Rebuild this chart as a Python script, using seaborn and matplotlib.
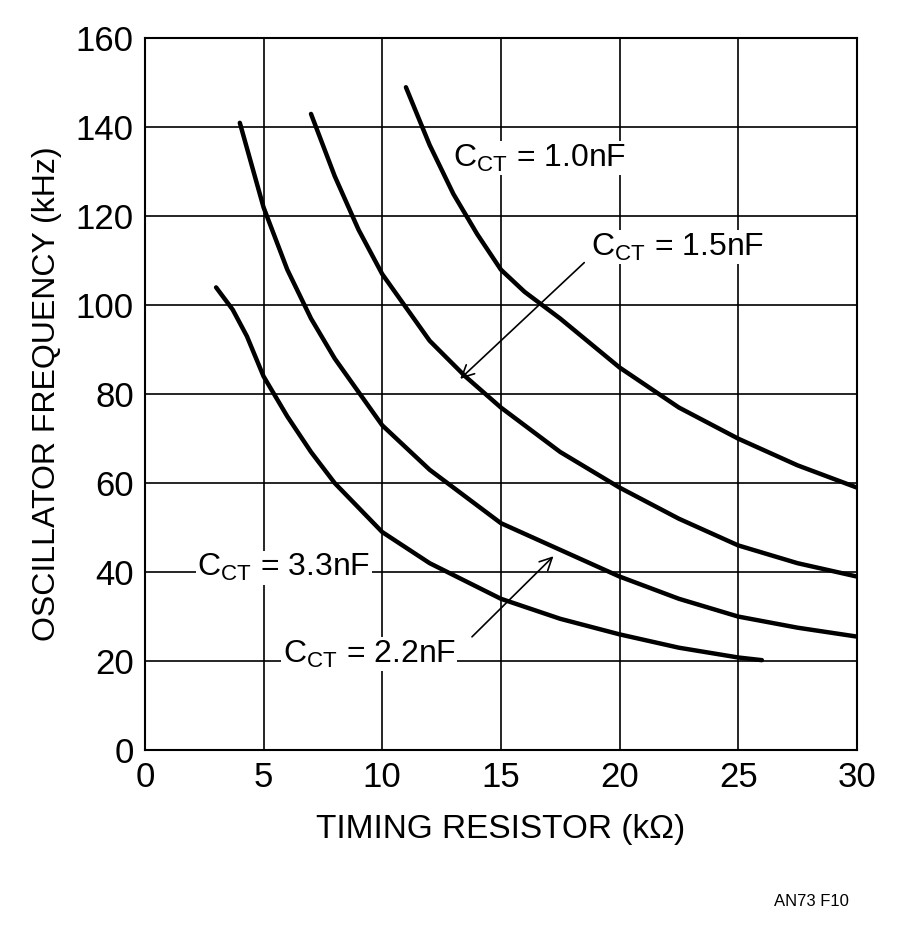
import matplotlib
matplotlib.use('Agg')
import matplotlib.pyplot as plt
import seaborn as sns

r_10 = [11, 12, 13, 14, 15, 16, 17.5, 20, 22.5, 25, 27.5, 30]
f_10 = [149, 136, 125, 116, 108, 103, 97, 86, 77, 70, 64, 59]
r_15 = [7, 8, 9, 10, 12, 13.5, 15, 17.5, 20, 22.5, 25, 27.5, 30]
f_15 = [143, 129, 117, 107, 92, 84, 77, 67, 59, 52, 46, 42, 39]
r_22 = [4, 5, 6, 7, 8, 10, 12, 15, 17.5, 20, 22.5, 25, 27.5, 30]
f_22 = [141, 122, 108, 97, 88, 73, 63, 51, 45, 39, 34, 30, 27.5, 25.5]
r_33 = [3, 3.7, 4.3, 5, 6, 7, 8, 10, 12, 15, 17.5, 20, 22.5, 25, 26]
f_33 = [104, 99, 93, 84, 75, 67, 60, 49, 42, 34, 29.5, 26, 23, 20.8, 20.2]

sns.set_style("white")
plt.rcParams['font.family'] = ['Liberation Sans', 'DejaVu Sans']
plt.rcParams['mathtext.fontset'] = 'custom'
plt.rcParams['mathtext.rm'] = 'Liberation Sans'
plt.rcParams['text.color'] = 'black'
plt.rcParams['axes.labelcolor'] = 'black'
plt.rcParams['xtick.color'] = 'black'
plt.rcParams['ytick.color'] = 'black'

fig = plt.figure(figsize=(9, 9.34), dpi=100)
ax = fig.add_axes([0.161, 0.197, 0.791, 0.762])

for r, f in [(r_10, f_10), (r_15, f_15), (r_22, f_22), (r_33, f_33)]:
    sns.lineplot(x=r, y=f, ax=ax, color='black', lw=3.2, sort=False, zorder=3)

ax.set_xlim(0, 30)
ax.set_ylim(0, 160)
ax.set_xticks(range(0, 31, 5))
ax.set_yticks(range(0, 161, 20))
ax.grid(True, color='black', lw=1.2)
for s in ax.spines.values():
    s.set_color('black')
    s.set_linewidth(1.5)
ax.tick_params(labelsize=25, length=0, pad=8)
ax.set_xlabel('TIMING RESISTOR (kΩ)', fontsize=24, labelpad=14)
ax.set_ylabel('OSCILLATOR FREQUENCY (kHz)', fontsize=23, labelpad=10)

box = dict(facecolor='white', edgecolor='none', pad=1)
kw = dict(fontsize=23, bbox=box, zorder=4, va='center')
ax.text(13.0, 133, r'C$_{\rm CT}$ = 1.0nF', **kw)
ax.text(18.8, 113, r'C$_{\rm CT}$ = 1.5nF', **kw)
ax.text(2.2, 41, r'C$_{\rm CT}$ = 3.3nF', **kw)
ax.text(5.8, 21.5, r'C$_{\rm CT}$ = 2.2nF', **kw)
arrow = dict(arrowstyle='->', color='black', lw=1.2, mutation_scale=22)
ax.annotate('', xy=(13.2, 83), xytext=(18.6, 110), arrowprops=arrow, zorder=4)
ax.annotate('', xy=(17.3, 44), xytext=(13.7, 25), arrowprops=arrow, zorder=4)

fig.text(0.86, 0.03, 'AN73 F10', fontsize=12, ha='left')
fig.savefig('out.png', dpi=100, facecolor='white')
